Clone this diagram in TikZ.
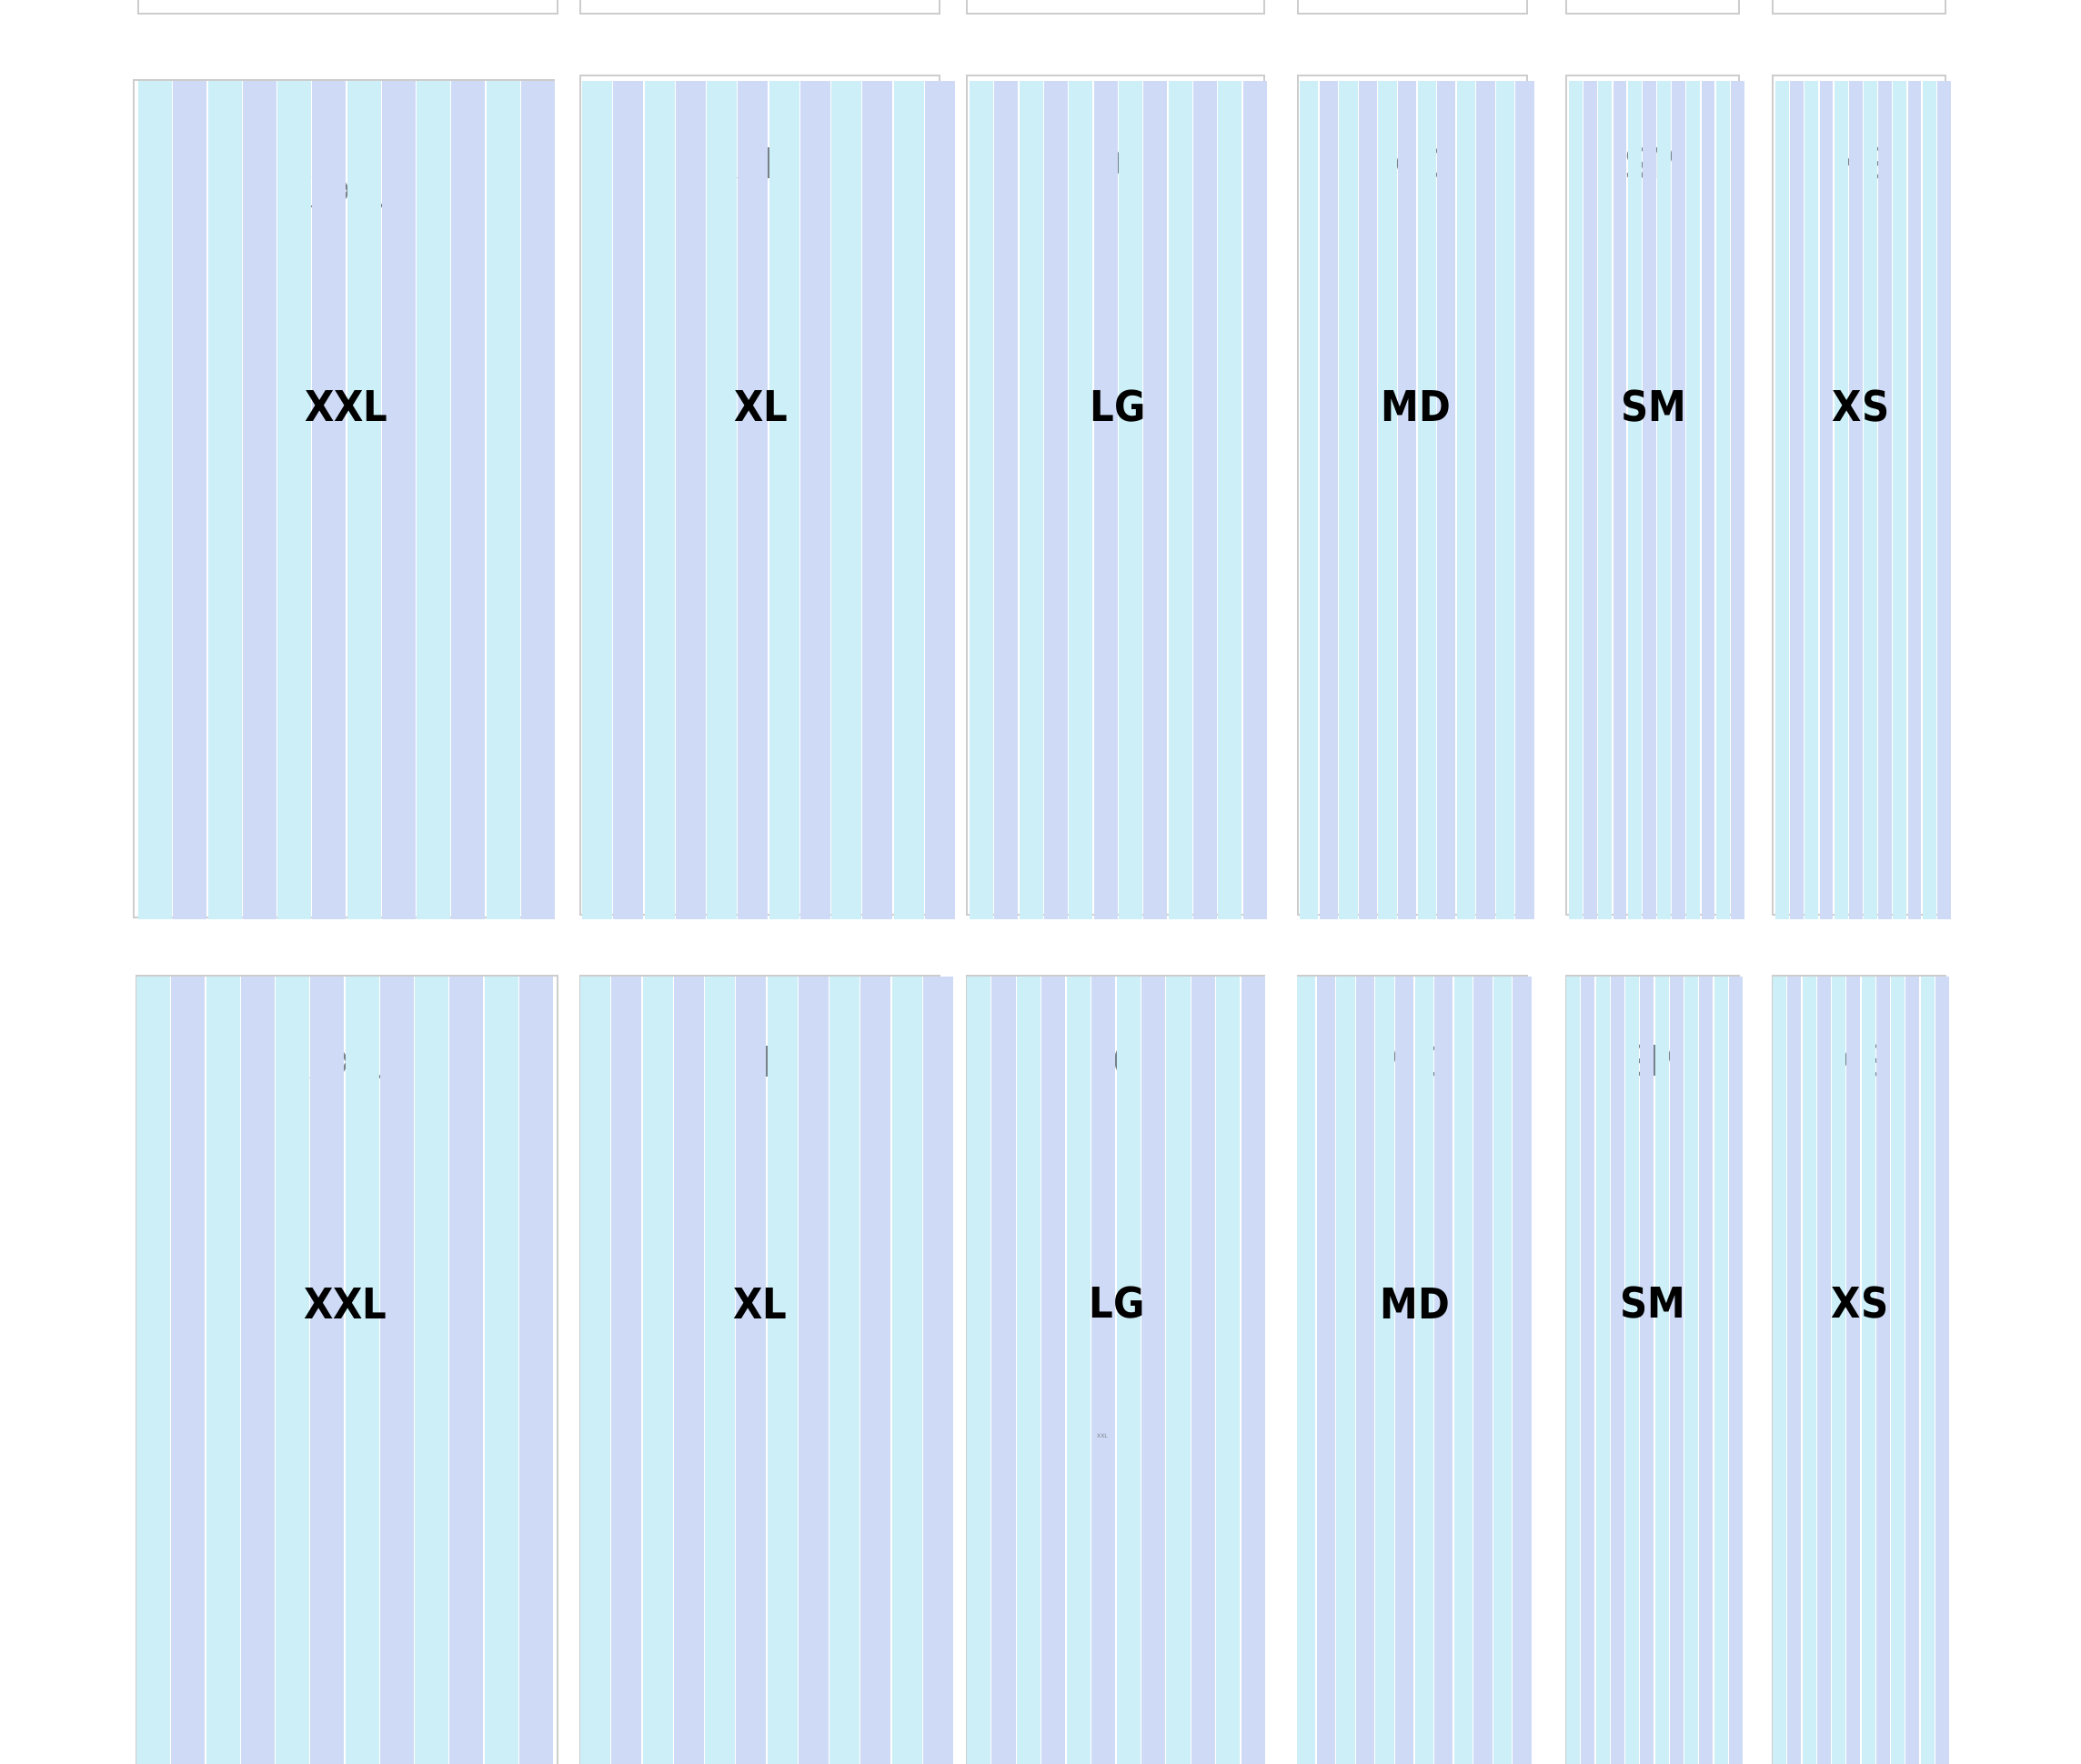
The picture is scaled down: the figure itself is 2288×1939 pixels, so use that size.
\documentclass[tikz,border=0pt]{standalone}
\usepackage{fontspec}
\setmainfont{DejaVu Sans}
\newfontfamily\lblfont{DejaVu Sans}[FakeStretch=0.9]
\definecolor{cy}{RGB}{204,239,248}
\definecolor{lv}{RGB}{207,219,246}
\definecolor{bd}{RGB}{205,205,205}
\definecolor{ghost}{RGB}{120,128,136}
\newcommand\stripeset[4]{%
  \pgfmathsetmacro\sw{(#2-#1)/12}%
  \foreach \i in {0,...,11}{%
    \pgfmathsetmacro\xa{#1+\i*\sw}%
    \pgfmathsetmacro\xb{\xa+\sw-1.2}%
    \ifodd\i
      \fill[lv] (\xa,#3) rectangle (\xb,#4);
    \else
      \fill[cy] (\xa,#3) rectangle (\xb,#4);
    \fi
  }}
\tikzset{
  frame/.style={draw=bd, line width=1.6pt},
  biglabel/.style={font=\lblfont\fontsize{46.6}{50}\selectfont\bfseries, text=black, inner sep=0pt},
  ghostlabel/.style={font=\lblfont\fontsize{46.6}{50}\selectfont, text=ghost, inner sep=0pt},
  tinylabel/.style={font=\fontsize{6}{7}\selectfont, text=ghost, inner sep=0pt}
}
\begin{document}
\begin{tikzpicture}[x=1pt,y=-1pt]
\fill[white] (0,0) rectangle (2288,1939);
\useasboundingbox (0,0) rectangle (2288,1939);

% top row boxes (mostly cut off)
\foreach \l/\r in {152/613, 638/1033, 1063/1390, 1427/1679, 1722/1912, 1949/2139}{
  \draw[frame] (\l,-10) rectangle (\r,15);
}

% middle row containers
\draw[frame] (147,88) rectangle (609,1009);
\foreach \l/\r in {638/1033, 1063/1390, 1427/1679, 1722/1912, 1949/2139}{
  \draw[frame] (\l,83) rectangle (\r,1006);
}

% bottom row containers
\draw[frame] (150,1073) rectangle (613,1960);
\foreach \l/\r in {638/1033, 1063/1390, 1427/1679, 1722/1912, 1949/2139}{
  \draw[frame] (\l,1073) rectangle (\r,1960);
}

% ghost labels behind stripes
\node[ghostlabel] (g1) at (381,212) {XXL};
\node[ghostlabel] (g2) at (836,180) {XL};
\node[ghostlabel] (g3) at (1229,180) {LG};
\node[ghostlabel] (g4) at (1557,180) {MD};
\node[ghostlabel] (g5) at (1818,180) {SM};
\node[ghostlabel] (g6) at (2046,180) {XS};
\node[ghostlabel] (h1) at (380,1169) {XXL};
\node[ghostlabel] (h2) at (835,1167) {XL};
\node[ghostlabel] (h3) at (1228,1167) {LG};
\node[ghostlabel] (h4) at (1556,1167) {MD};
\node[ghostlabel] (h5) at (1817,1167) {SM};
\node[ghostlabel] (h6) at (2045,1167) {XS};

% middle row stripes
\stripeset{152}{611}{89}{1011}
\stripeset{640}{1051}{89}{1011}
\stripeset{1066}{1394}{89}{1011}
\stripeset{1429}{1688}{89}{1011}
\stripeset{1725}{1919}{89}{1011}
\stripeset{1952}{2146}{89}{1011}

% bottom row stripes
\stripeset{150}{609}{1074}{1945}
\stripeset{638}{1049}{1074}{1945}
\stripeset{1063}{1392}{1074}{1945}
\stripeset{1426}{1685}{1074}{1945}
\stripeset{1722}{1917}{1074}{1945}
\stripeset{1949}{2144}{1074}{1945}

% labels
\node[biglabel] (m1) at (381,447) {XXL};
\node[biglabel] (m2) at (837,447) {XL};
\node[biglabel] (m3) at (1229,447) {LG};
\node[biglabel] (m4) at (1557,447) {MD};
\node[biglabel] (m5) at (1818,447) {SM};
\node[biglabel] (m6) at (2046,447) {XS};
\node[biglabel] (b1) at (380,1433) {XXL};
\node[biglabel] (b2) at (836,1433) {XL};
\node[biglabel] (b3) at (1228,1433) {LG};
\node[biglabel] (b4) at (1556,1433) {MD};
\node[biglabel] (b5) at (1817,1433) {SM};
\node[biglabel] (b6) at (2045,1433) {XS};

\node[tinylabel] (t1) at (1212,1579) {XXL};
\end{tikzpicture}
\end{document}
